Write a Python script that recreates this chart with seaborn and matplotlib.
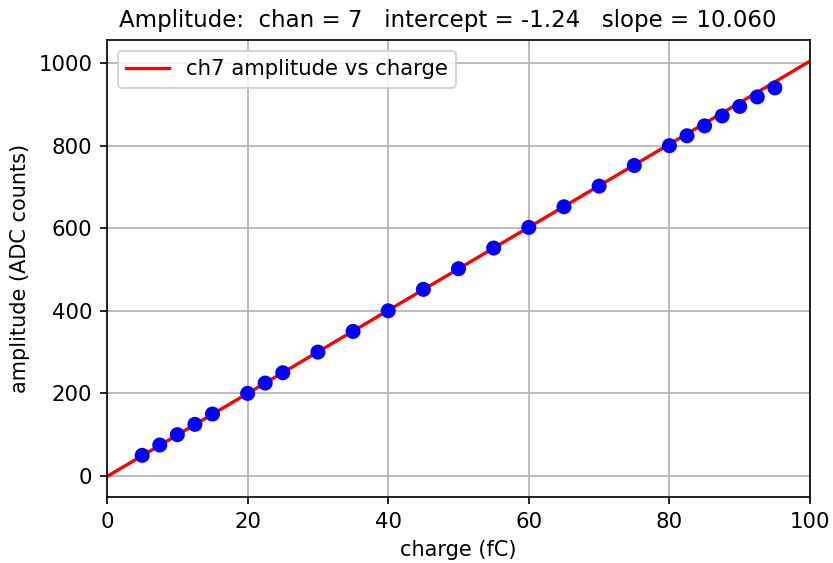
import matplotlib
matplotlib.use("Agg")
import matplotlib.pyplot as plt
import seaborn as sns
import numpy as np

chan = 7
intercept = -1.24
slope = 10.060

charge = [5, 7.5, 10, 12.5, 15, 20, 22.5, 25, 30, 35, 40, 45, 50, 55, 60,
          65, 70, 75, 80, 82.5, 85, 87.5, 90, 92.5, 95]
amplitude = [50, 75, 100, 125, 150, 200, 225, 250, 300, 350, 400, 452, 502,
             552, 602, 652, 702, 752, 800, 824, 848, 872, 895, 918, 940]

fit_x = np.array([0, 100])
fit_y = intercept + slope * fit_x

fig, ax = plt.subplots(figsize=(833 / 150, 563 / 150), dpi=150)
fig.subplots_adjust(left=0.1285, right=0.9724, top=0.929, bottom=0.1172)

sns.lineplot(x=fit_x, y=fit_y, color="red", linewidth=1.6,
             label=f"ch{chan} amplitude vs charge", ax=ax, zorder=2)
sns.scatterplot(x=charge, y=amplitude, color="blue", s=52, edgecolor="none",
                ax=ax, zorder=3)

ax.set_xlim(0, 100)
ax.set_ylim(-51, 1056)
ax.grid(True, color="#b0b0b0", linewidth=0.8)
ax.set_axisbelow(True)
ax.tick_params(labelsize=10.2)
ax.set_xlabel("charge (fC)", fontsize=10)
ax.set_ylabel("amplitude (ADC counts)", fontsize=10)
ax.set_title(f"Amplitude:  chan = {chan}   intercept = {intercept:.2f}   slope = {slope:.3f}   ",
             fontsize=11)
ax.legend(loc="upper left", fontsize=10.2)

fig.savefig("out.png", dpi=150)
